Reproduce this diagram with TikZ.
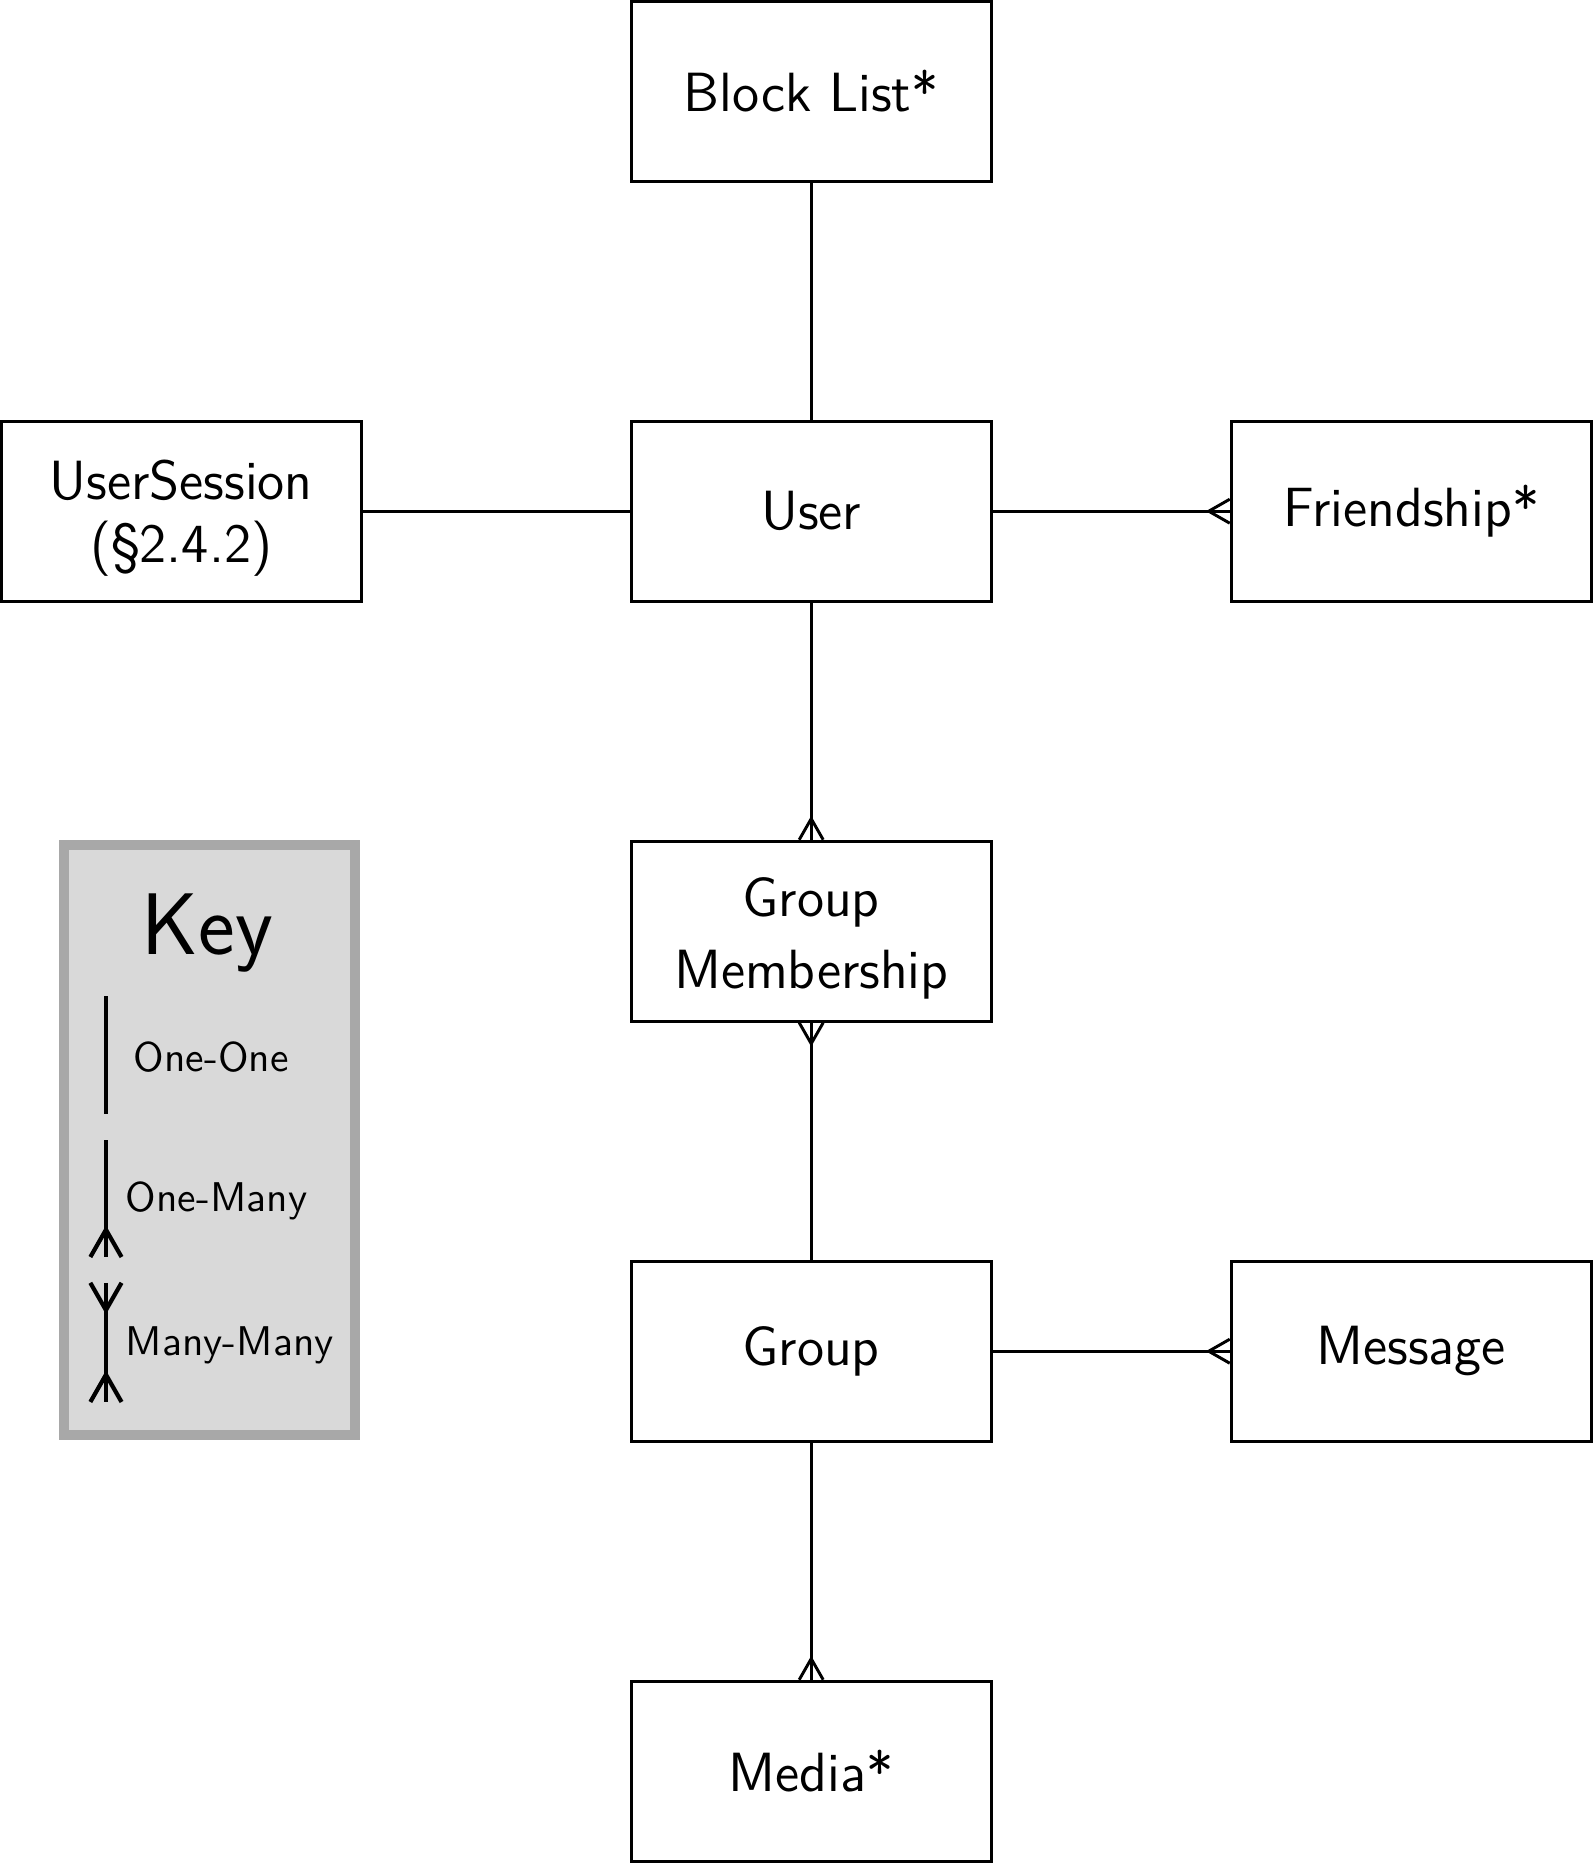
\documentclass[tikz,border=0pt]{standalone}
\usepackage{tikz}
\usetikzlibrary{decorations.markings}
\usetikzlibrary{positioning}

\definecolor{keyfill}{gray}{0.85}
\definecolor{keyedge}{gray}{0.66}

\newcommand{\tallline}[1]{\rule{0pt}{#1}}

\tikzset{
  entity/.style={draw, line width=0.7pt, minimum width=3cm, minimum height=1.5cm,
    align=center, font=\sffamily\fontsize{13.1}{15}\selectfont},
  link/.style={line width=0.7pt},
  many end/.style={postaction={decorate,decoration={markings,
    mark=at position 1 with {\draw (0,#1) -- (-1.75*#1,0) -- (0,-#1);}}}},
  many end/.default=0.1,
  many start/.style={postaction={decorate,decoration={markings,
    mark=at position 0 with {\draw (0,#1) -- (1.75*#1,0) -- (0,-#1);}}}},
  many start/.default=0.1,
  keybox/.style={draw=keyedge, fill=keyfill, line width=2.4pt,
    minimum width=2.425cm, minimum height=4.917cm},
  keyline/.style={line width=1pt},
  keytext/.style={anchor=base west, inner sep=0pt, font=\sffamily\fontsize{9.85}{12}\selectfont}
}

\begin{document}
\begin{tikzpicture}
  \useasboundingbox (0,0) rectangle (13.275,-15.525);

  % entities
  \node[entity] (block) at (6.76,-0.76) {Block List*};
  \node[entity] (user) at (6.76,-4.26) {User};
  \node[entity] (session) at (1.51,-4.26) {\tallline{12.6pt}UserSession\\(\S2.4.2)};
  \node[entity] (friend) at (11.76,-4.26) {Friendship*};
  \node[entity] (member) at (6.76,-7.76) {\tallline{12.6pt}Group\\[2pt]Membership};
  \node[entity] (group) at (6.76,-11.26) {Group};
  \node[entity] (message) at (11.76,-11.26) {Message};
  \node[entity] (media) at (6.76,-14.76) {Media*};

  % relations
  \draw[link] (block) -- (user);
  \draw[link] (session) -- (user);
  \draw[link, many end] (user) -- (friend);
  \draw[link, many end] (user) -- (member);
  \draw[link, many start] (member) -- (group);
  \draw[link, many end] (group) -- (message);
  \draw[link, many end] (group) -- (media);

  % key
  \begin{scope}
    \node[keybox] (key) at (1.746,-9.5) {};
    \node[font=\sffamily\huge, anchor=base] (keytitle) at (1.73,-7.95) {Key};
    \coordinate (oneA) at (0.883,-8.3);
    \coordinate (oneB) at (0.883,-9.283);
    \coordinate (manyA) at (0.883,-9.5);
    \coordinate (manyB) at (0.883,-10.475);
    \coordinate (bothA) at (0.883,-10.69);
    \coordinate (bothB) at (0.883,-11.683);
    \draw[keyline] (oneA) -- (oneB);
    \draw[keyline, many end=0.13] (manyA) -- (manyB);
    \draw[keyline, many start=0.13, many end=0.13] (bothA) -- (bothB);
    \node[keytext] (onetext) at (1.108,-8.925) {One-One};
    \node[keytext] (manytext) at (1.042,-10.096) {One-Many};
    \node[keytext] (bothtext) at (1.042,-11.296) {Many-Many};
  \end{scope}
\end{tikzpicture}
\end{document}
